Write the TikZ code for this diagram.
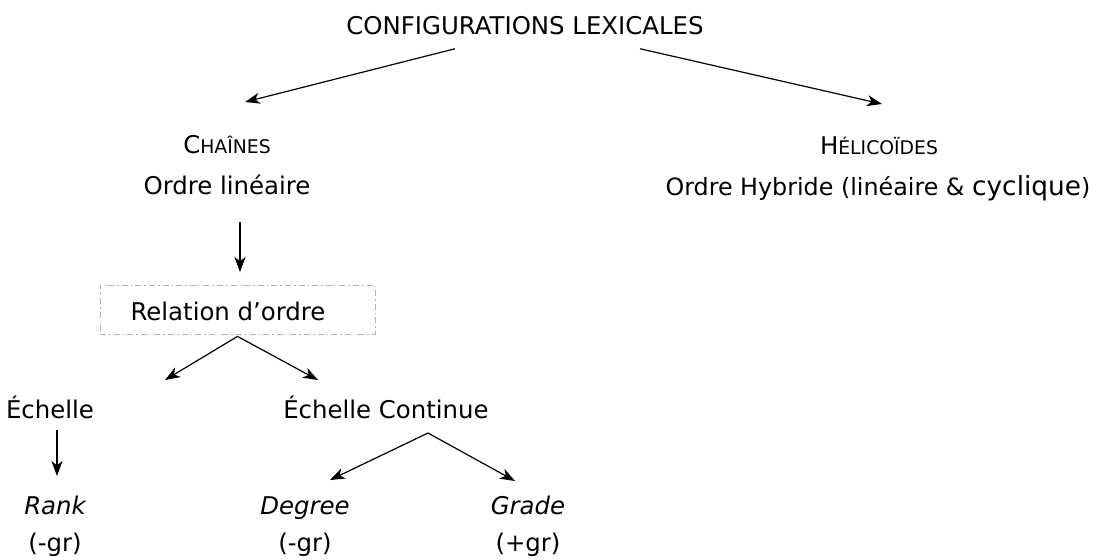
\documentclass[tikz,border=0pt]{standalone}
\usepackage{fontspec}
\setmainfont{DejaVu Sans}
\usetikzlibrary{positioning,calc,arrows.meta}

\newcommand{\smc}[1]{{\fontsize{9.4}{11}\selectfont #1}}

\begin{document}
\begin{tikzpicture}[x=0.5pt,y=-0.5pt,
    lbl/.style={inner sep=0pt, anchor=base, font=\fontsize{12.2}{14}\selectfont},
    arr/.style={-{Stealth[length=7.5pt,width=5.5pt,inset=2.2pt]}, line width=0.6pt},
    ordbox/.style={draw=gray!60, line width=0.4pt, dash pattern=on 3pt off 1.5pt on 0.8pt off 1.5pt,
        minimum width=137.5pt, minimum height=24.5pt, inner sep=0pt}]
    \useasboundingbox (0,0) rectangle (1097,559);

    \node[lbl] (title) at (525,34) {CONFIGURATIONS LEXICALES};

    % chaines
    \node[lbl] (chn) at (227,153) {C\smc{HAÎNES}};
    \node[lbl] (chnord) at (227,194) {Ordre linéaire};
    % helicoides
    \node[lbl] (hel) at (879,154) {H\smc{ÉLICOÏDES}};
    \node[lbl, font=\fontsize{11.9}{14}\selectfont] (helord) at (878,195) {Ordre Hybride (linéaire \& {\fontsize{13.2}{15}\selectfont cyclique})};

    \coordinate (chnin) at (245,102);
    \coordinate (helin) at (882,104);
    \draw[arr] ([xshift=-35pt,yshift=-7pt]title.south) -- (chnin);
    \draw[arr] ([xshift=57.5pt,yshift=-7pt]title.south) -- (helin);

    % relation d'ordre
    \node[ordbox] (rel) at (237.5,309.5) {};
    \node[lbl] (reltxt) at (228,320) {Relation d’ordre};
    \draw[arr] (240,222) -- (240,272);

    \node[lbl] (ech) at (50,418) {Échelle};
    \node[lbl] (echc) at (386,418) {Échelle Continue};
    \coordinate (echin) at (165,380);
    \coordinate (echcin) at (318,380);
    \draw[arr] ([yshift=-1pt]rel.south) -- (echin);
    \draw[arr] ([yshift=-1pt]rel.south) -- (echcin);

    % feuilles
    \node[lbl] (rank) at (55,514) {\itshape Rank};
    \node[lbl] (rankgr) at (55,551) {(-gr)};
    \node[lbl] (deg) at (305,514) {\itshape Degree};
    \node[lbl] (deggr) at (305,551) {(-gr)};
    \node[lbl] (grd) at (528,514) {\itshape Grade};
    \node[lbl] (grdgr) at (528,551) {(+gr)};

    \coordinate (top) at (428,433);
    \draw[arr] (57,430) -- (57,476);
    \draw[arr] (top) -- (330,480);
    \draw[arr] (top) -- (515,481);
\end{tikzpicture}
\end{document}
